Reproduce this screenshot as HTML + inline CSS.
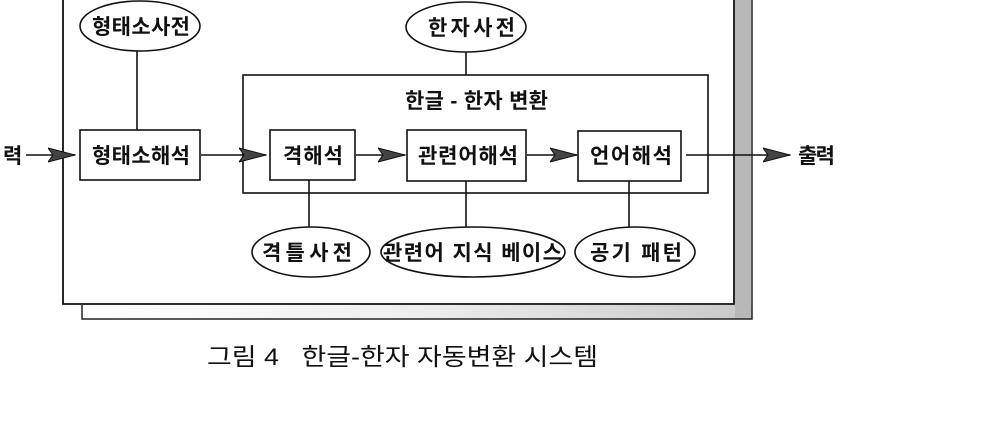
<!DOCTYPE html>
<html><head><meta charset="utf-8"><style>
html,body{margin:0;padding:0;background:#fff;}
text{font-family:"Liberation Sans","Noto Sans CJK KR","NanumGothic",sans-serif;fill:#111;font-weight:bold;}
</style></head><body>
<svg width="994" height="417" viewBox="0 0 994 417" xmlns="http://www.w3.org/2000/svg">
<defs>
<linearGradient id="g" x1="0" x2="1" y1="0" y2="0">
<stop offset="0" stop-color="#fff"/><stop offset="0.5" stop-color="#eee"/><stop offset="1" stop-color="#c8c8c8"/>
</linearGradient>
<marker id="a" viewBox="0 0 28 16" refX="27" refY="8" markerWidth="28" markerHeight="16" markerUnits="userSpaceOnUse" orient="auto">
<path d="M0,1 L27,8 L0,15 L5,8 Z" fill="#444" stroke="#111" stroke-width="1"/>
</marker>
</defs>
<rect x="82" y="305" width="670" height="14" fill="url(#g)"/>
<rect x="735" y="0" width="16" height="319" fill="#b8b8b8"/>
<path d="M82,305 L82,319 L752,319 L752,0" fill="none" stroke="#222" stroke-width="1.5"/>
<path d="M63,0 L63,304 L734,304 L734,0" fill="none" stroke="#111" stroke-width="1.8"/>
<g fill="none" stroke="#111" stroke-width="1.6">
<rect x="243" y="75" width="465" height="118"/>
<rect x="80" y="130" width="120" height="50"/>
<rect x="270" y="130" width="85" height="50"/>
<rect x="407" y="130" width="119" height="51"/>
<rect x="578" y="131" width="103" height="50"/>
<ellipse cx="140" cy="26" rx="60" ry="25"/>
<ellipse cx="466" cy="27" rx="60" ry="25"/>
<ellipse cx="311" cy="252" rx="59" ry="25"/>
<ellipse cx="473" cy="252" rx="92" ry="25"/>
<ellipse cx="635" cy="252" rx="60" ry="25"/>
<line x1="137" y1="51" x2="137" y2="130"/>
<line x1="466" y1="52" x2="466" y2="75"/>
<line x1="309" y1="180" x2="309" y2="227"/>
<line x1="466" y1="181" x2="466" y2="227"/>
<line x1="629" y1="181" x2="629" y2="227"/>
<line x1="26" y1="155" x2="75" y2="155" marker-end="url(#a)"/>
<line x1="201" y1="155" x2="266" y2="155" marker-end="url(#a)"/>
<line x1="356" y1="155" x2="405" y2="155" marker-end="url(#a)"/>
<line x1="527" y1="155" x2="577" y2="155" marker-end="url(#a)"/>
<line x1="686" y1="155" x2="790" y2="155" marker-end="url(#a)"/>
</g>
<g font-size="21" lengthAdjust="spacingAndGlyphs">
<text x="92" y="34" textLength="98">형태소사전</text>
<text x="428" y="35" textLength="87">한자사전</text>
<text x="405" y="108" textLength="143">한글 - 한자 변환</text>
<text x="92" y="163" textLength="98">형태소해석</text>
<text x="283" y="163" textLength="60">격해석</text>
<text x="418" y="163" textLength="100">관련어해석</text>
<text x="590" y="163" textLength="82">언어해석</text>
<text x="262" y="260" textLength="90">격틀사전</text>
<text x="383" y="260" textLength="179">관련어 지식 베이스</text>
<text x="590" y="260" textLength="92">공기 패턴</text>
<text x="3" y="163" textLength="17">력</text>
<text x="798" y="163" textLength="37">출력</text>
</g>
<text x="207" y="365" font-size="24" textLength="391" lengthAdjust="spacingAndGlyphs" style="font-weight:normal" xml:space="preserve">그림 4   한글-한자 자동변환 시스템</text>
</svg>
</body></html>
